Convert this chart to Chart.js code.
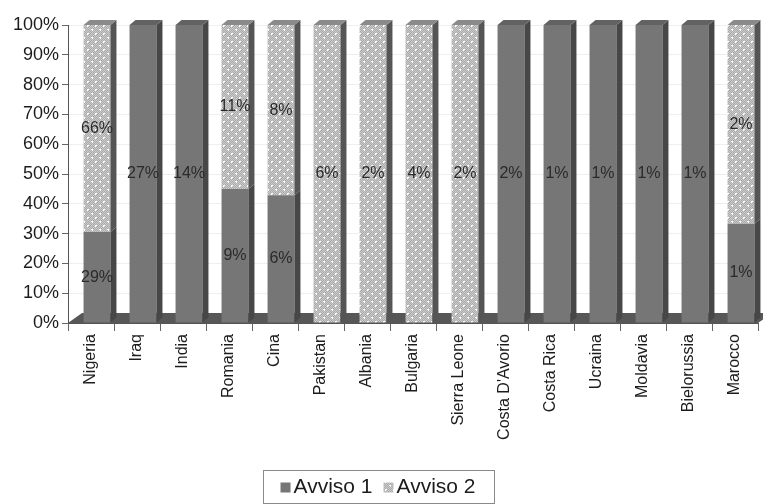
<!DOCTYPE html>
<html>
<head>
<meta charset="utf-8">
<script src="https://cdn.jsdelivr.net/npm/chart.js@4/dist/chart.umd.min.js"></script>
<style>
  html, body { margin: 0; padding: 0; background: #ffffff; }
  #wrap { width: 763px; height: 504px; position: relative; }
</style>
</head>
<body>
<div id="wrap"><canvas id="c" width="763" height="504"></canvas></div>
<script>
// Countries and counts per notice (the labels print these raw shares)
const categories = ['Nigeria', 'Iraq', 'India', 'Romania', 'Cina', 'Pakistan', 'Albania', 'Bulgaria',
  'Sierra Leone', "Costa D'Avorio", 'Costa Rica', 'Ucraina', 'Moldavia', 'Bielorussia', 'Marocco'];
const avviso1 = [29, 27, 14, 9, 6, 0, 0, 0, 0, 2, 1, 1, 1, 1, 1];
const avviso2 = [66, 0, 0, 11, 8, 6, 2, 4, 2, 0, 0, 0, 0, 0, 2];
const seriesNames = ['Avviso 1', 'Avviso 2'];
const yTickValues = [0, 10, 20, 30, 40, 50, 60, 70, 80, 90, 100];

// 100% stacked: each column is split by its own total
const totals = categories.map((_, i) => avviso1[i] + avviso2[i]);
const share1 = avviso1.map((v, i) => v / totals[i] * 100);
const share2 = avviso2.map((v, i) => v / totals[i] * 100);
const rawValues = [avviso1, avviso2];

const FONT = '"Liberation Sans", Arial, Helvetica, sans-serif';
const TEXT = '#1c1c1c';
const SHIFT = 6;       // bars sit slightly right of the category centre
const DX = 6, DY = 5;  // bar depth
const FX = 14, FY = 10; // floor depth

// dotted light-grey fill for the second series
function makePattern() {
  const t = document.createElement('canvas');
  t.width = 8; t.height = 8;
  const g = t.getContext('2d');
  for (let y = 0; y < 8; y++) {
    for (let x = 0; x < 8; x++) {
      g.fillStyle = ((x + y) % 2 === 0) ? '#cbcbcb' : '#ababab';
      g.fillRect(x, y, 1, 1);
    }
  }
  g.fillStyle = '#ffffff';
  g.fillRect(1, 1, 2, 1); g.fillRect(1, 2, 1, 1);
  g.fillRect(5, 5, 2, 1); g.fillRect(6, 6, 1, 1);
  return g.createPattern(t, 'repeat');
}
const ctx0 = document.getElementById('c').getContext('2d');
const dotPattern = makePattern();

const faceColors = ['#767676', dotPattern];
const sideColors = ['#474747', '#555555'];
const topColors = ['#626262', '#8a8a8a'];

const bars3d = {
  id: 'bars3d',
  beforeDatasetsDraw(chart) {
    const { ctx, chartArea: a } = chart;
    // floor
    ctx.save();
    ctx.fillStyle = '#575757';
    ctx.beginPath();
    ctx.moveTo(a.left, a.bottom);
    ctx.lineTo(a.right, a.bottom);
    ctx.lineTo(a.right + FX, a.bottom - FY);
    ctx.lineTo(a.left + FX, a.bottom - FY);
    ctx.closePath();
    ctx.fill();
    ctx.restore();
    ctx.save();
    ctx.translate(SHIFT, 0);
  },
  afterDatasetsDraw(chart) {
    const { ctx } = chart;
    ctx.restore();
    const metas = [chart.getDatasetMeta(0), chart.getDatasetMeta(1)];
    ctx.save();
    for (let i = 0; i < categories.length; i++) {
      let topDs = -1;
      for (let d = 0; d < 2; d++) {
        const el = metas[d].data[i];
        const p = el.getProps(['x', 'y', 'base', 'width'], true);
        if (Math.abs(p.base - p.y) < 0.5) continue;
        topDs = d;
        const xr = p.x + SHIFT + p.width / 2;
        const yt = Math.min(p.y, p.base), yb = Math.max(p.y, p.base);
        ctx.fillStyle = sideColors[d];
        ctx.beginPath();
        ctx.moveTo(xr, yt);
        ctx.lineTo(xr + DX, yt - DY);
        ctx.lineTo(xr + DX, yb - DY);
        ctx.lineTo(xr, yb);
        ctx.closePath();
        ctx.fill();
      }
      if (topDs >= 0) {
        const p = metas[topDs].data[i].getProps(['x', 'y', 'base', 'width'], true);
        const xl = p.x + SHIFT - p.width / 2, xr = p.x + SHIFT + p.width / 2;
        const yt = Math.min(p.y, p.base);
        ctx.fillStyle = topColors[topDs];
        ctx.beginPath();
        ctx.moveTo(xl, yt);
        ctx.lineTo(xr, yt);
        ctx.lineTo(xr + DX, yt - DY);
        ctx.lineTo(xl + DX, yt - DY);
        ctx.closePath();
        ctx.fill();
      }
    }
    // value labels at the middle of each segment
    ctx.font = '16px ' + FONT;
    ctx.fillStyle = '#2a2a2a';
    ctx.textAlign = 'center';
    ctx.textBaseline = 'middle';
    for (let d = 0; d < 2; d++) {
      metas[d].data.forEach((el, i) => {
        const v = rawValues[d][i];
        if (!v) return;
        const p = el.getProps(['x', 'y', 'base'], true);
        ctx.fillText(v + '%', p.x + SHIFT, (p.y + p.base) / 2);
      });
    }
    ctx.restore();
  },
  afterDraw(chart) {
    // boxed legend under the axis labels
    const { ctx } = chart;
    ctx.save();
    ctx.font = '21px ' + FONT;
    ctx.textBaseline = 'middle';
    const sq = 10, gapSq = 3, gapItem = 11, pad = 18;
    const widths = seriesNames.map(n => ctx.measureText(n).width);
    const inner = sq + gapSq + widths[0] + gapItem + sq + gapSq + widths[1];
    const boxW = inner + pad * 2;
    const cx = 378;
    const left = cx - boxW / 2, top = 470, h = 33;
    ctx.strokeStyle = '#8a8a8a';
    ctx.lineWidth = 1;
    ctx.strokeRect(Math.round(left) + 0.5, top + 0.5, Math.round(boxW), h);
    let x = left + pad;
    const cy = top + h / 2 + 1;
    for (let d = 0; d < 2; d++) {
      ctx.fillStyle = faceColors[d];
      ctx.fillRect(x, cy - sq / 2, sq, sq);
      x += sq + gapSq;
      ctx.fillStyle = TEXT;
      ctx.fillText(seriesNames[d], x, cy);
      x += widths[d] + gapItem;
    }
    ctx.restore();
  }
};

new Chart(ctx0, {
  type: 'bar',
  data: {
    labels: categories,
    datasets: [
      { label: seriesNames[0], data: share1, backgroundColor: faceColors[0], borderWidth: 0, clip: false },
      { label: seriesNames[1], data: share2, backgroundColor: faceColors[1], borderWidth: 0, clip: false }
    ]
  },
  options: {
    responsive: false,
    animation: false,
    events: [],
    layout: { padding: { top: 25, right: 5, left: 0, bottom: 34 } },
    datasets: { bar: { barPercentage: 0.585, categoryPercentage: 1 } },
    plugins: { legend: { display: false }, tooltip: { enabled: false } },
    scales: {
      x: {
        stacked: true,
        offset: true,
        grid: { offset: true, drawOnChartArea: false, tickLength: 8, tickColor: '#666666' },
        border: { color: '#555555', width: 1 },
        ticks: { minRotation: 90, maxRotation: 90, autoSkip: false, padding: 3,
          color: TEXT, font: { family: FONT, size: 16 } },
        afterFit(s) { s.height = 147; }
      },
      y: {
        stacked: true,
        min: 0, max: 100,
        afterBuildTicks(s) { s.ticks = yTickValues.map(v => ({ value: v })); },
        grid: { color: '#efefef', tickLength: 6, tickColor: '#666666' },
        border: { color: '#555555', width: 1 },
        ticks: { padding: 3, color: TEXT, font: { family: FONT, size: 18 },
          callback: v => v + '%' },
        afterFit(s) { s.width = 68; }
      }
    }
  },
  plugins: [bars3d]
});
</script>
</body>
</html>
